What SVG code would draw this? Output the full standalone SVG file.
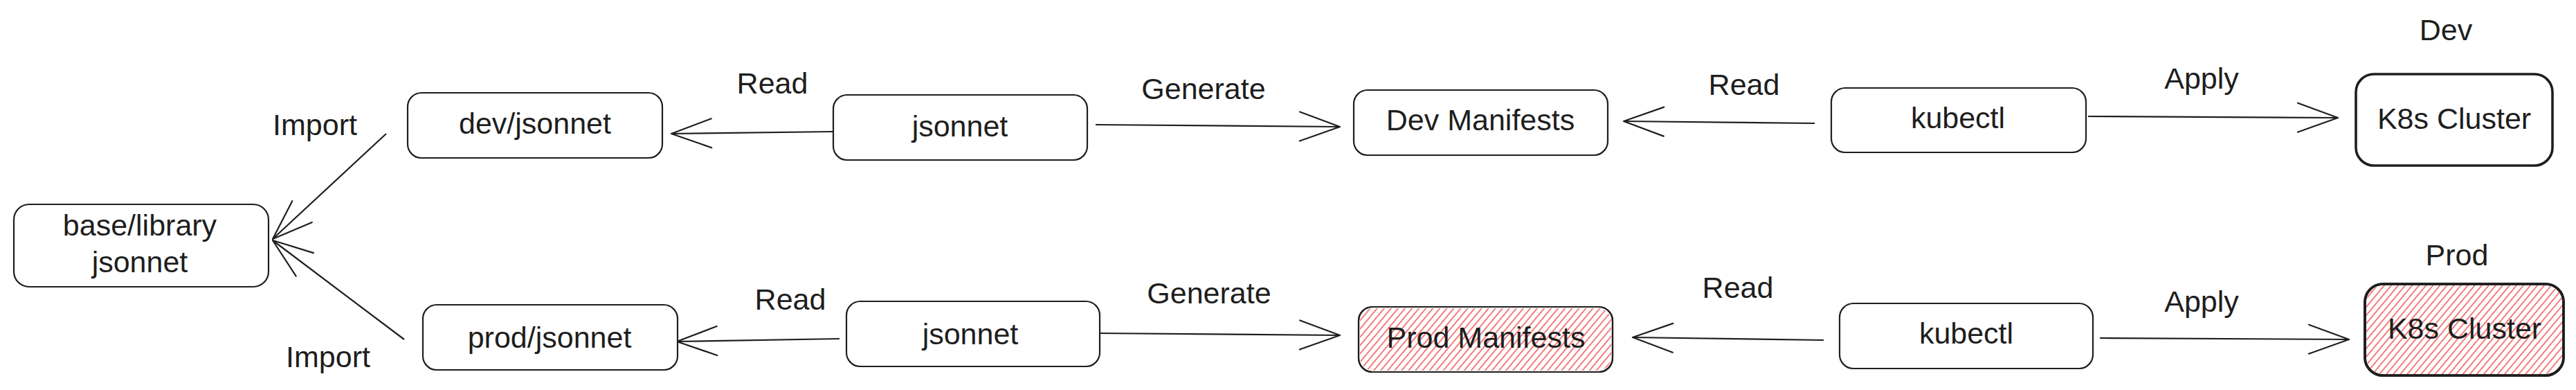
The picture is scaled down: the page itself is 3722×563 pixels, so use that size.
<svg xmlns="http://www.w3.org/2000/svg" width="3722" height="563" viewBox="0 0 3722 563">
  <style>
    .box { fill: #ffffff; stroke: #1e1e1e; stroke-width: 2.2; }
    .thick { stroke-width: 3.6; }
    .hatch { fill: url(#hatch); }
    .lbl { font-family: "Liberation Sans", "DejaVu Sans", sans-serif; font-size: 43px; fill: #1e1e1e; text-anchor: middle; }
    .conn { fill: none; stroke: #1e1e1e; stroke-width: 2.2; marker-end: url(#open); }
  </style>
  <defs>
    <marker id="open" markerUnits="userSpaceOnUse" markerWidth="80" markerHeight="60" viewBox="-70 -30 80 60" refX="0" refY="0" orient="auto" overflow="visible">
      <path d="M-58,-21 L0,0 L-58,21" fill="none" stroke="#1e1e1e" stroke-width="2.2" stroke-linecap="round" stroke-linejoin="round"/>
    </marker>
    <pattern id="hatch" patternUnits="userSpaceOnUse" width="7.7" height="20" patternTransform="rotate(40)">
      <line x1="1" y1="-2" x2="1" y2="22" stroke="#f03e3e" stroke-opacity="0.9" stroke-width="1.5"/>
    </pattern>
  </defs>

  <rect width="3722" height="563" fill="#ffffff"/>

  <g id="connectors">
    <path class="conn" d="M558,193 L394,345"/>
    <path class="conn" d="M584,490 L394,347"/>
    <path class="conn" d="M1205,190 L970,193"/>
    <path class="conn" d="M1583,180 L1936,183"/>
    <path class="conn" d="M2622,178 L2346,175"/>
    <path class="conn" d="M3017,168 L3378,170"/>
    <path class="conn" d="M1213,489 L978,493"/>
    <path class="conn" d="M1583,481 L1936,484"/>
    <path class="conn" d="M2635,491 L2359,487"/>
    <path class="conn" d="M3034,488 L3394,490"/>
  </g>

  <g id="edge-labels">
    <text class="lbl" x="455" y="195">Import</text>
    <text class="lbl" x="474" y="530">Import</text>
    <text class="lbl" x="1116" y="135">Read</text>
    <text class="lbl" x="1739" y="143">Generate</text>
    <text class="lbl" x="2520" y="137">Read</text>
    <text class="lbl" x="3181" y="128">Apply</text>
    <text class="lbl" x="1142" y="447">Read</text>
    <text class="lbl" x="1747" y="438">Generate</text>
    <text class="lbl" x="2511" y="430">Read</text>
    <text class="lbl" x="3181" y="450">Apply</text>
  </g>

  <g id="node-base">
    <rect class="box" x="20" y="295" width="368" height="119" rx="22"/>
    <text class="lbl" x="202" y="340">base/library</text>
    <text class="lbl" x="202" y="393">jsonnet</text>
  </g>
  <g id="node-dev-jsonnet">
    <rect class="box" x="589" y="134" width="368" height="94" rx="20"/>
    <text class="lbl" x="773" y="193">dev/jsonnet</text>
  </g>
  <g id="node-jsonnet-dev">
    <rect class="box" x="1204" y="137" width="367" height="94" rx="20"/>
    <text class="lbl" x="1387" y="197">jsonnet</text>
  </g>
  <g id="node-dev-manifests">
    <rect class="box" x="1956" y="130" width="367" height="94" rx="20"/>
    <text class="lbl" x="2139" y="188">Dev Manifests</text>
  </g>
  <g id="node-kubectl-dev">
    <rect class="box" x="2646" y="127" width="368" height="93" rx="20"/>
    <text class="lbl" x="2829" y="185">kubectl</text>
  </g>
  <g id="node-k8s-dev">
    <text class="lbl" x="3534" y="58">Dev</text>
    <rect class="box thick" x="3404" y="107" width="284" height="132" rx="26"/>
    <text class="lbl" x="3546" y="186">K8s Cluster</text>
  </g>

  <g id="node-prod-jsonnet">
    <rect class="box" x="611" y="440" width="368" height="94" rx="20"/>
    <text class="lbl" x="794" y="502">prod/jsonnet</text>
  </g>
  <g id="node-jsonnet-prod">
    <rect class="box" x="1223" y="435" width="366" height="94" rx="20"/>
    <text class="lbl" x="1402" y="497">jsonnet</text>
  </g>
  <g id="node-prod-manifests">
    <rect class="box" x="1963" y="443" width="367" height="94" rx="20"/>
    <rect class="hatch" x="1965" y="445" width="363" height="90" rx="19"/>
    <rect x="1963" y="443" width="367" height="94" rx="20" fill="none" stroke="#1e1e1e" stroke-width="2.2"/>
    <text class="lbl" x="2147" y="502">Prod Manifests</text>
  </g>
  <g id="node-kubectl-prod">
    <rect class="box" x="2658" y="438" width="366" height="94" rx="20"/>
    <text class="lbl" x="2841" y="496">kubectl</text>
  </g>
  <g id="node-k8s-prod">
    <text class="lbl" x="3550" y="383">Prod</text>
    <rect class="box thick" x="3417" y="410" width="287" height="132" rx="26"/>
    <rect class="hatch" x="3419" y="412" width="283" height="128" rx="25"/>
    <rect x="3417" y="410" width="287" height="132" rx="26" fill="none" stroke="#1e1e1e" stroke-width="3.6"/>
    <text class="lbl" x="3561" y="489">K8s Cluster</text>
  </g>
</svg>
